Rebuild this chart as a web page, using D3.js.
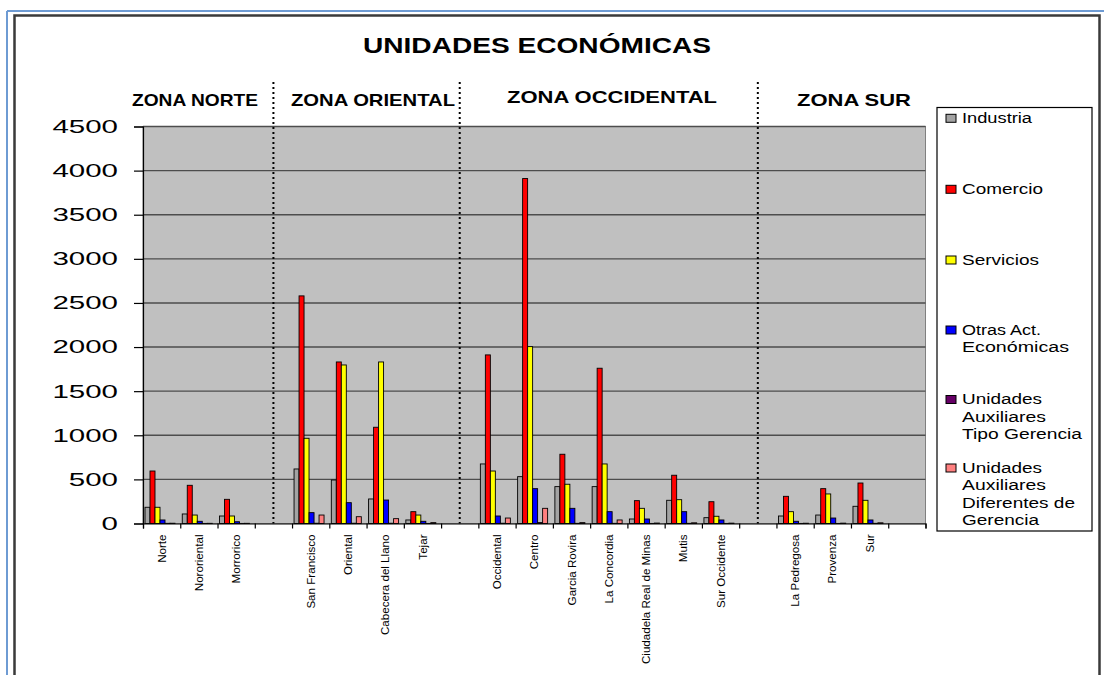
<!DOCTYPE html>
<html>
<head>
<meta charset="utf-8">
<script src="https://cdn.jsdelivr.net/npm/d3@7/dist/d3.min.js"></script>
<style>
  html, body { margin: 0; padding: 0; background: #ffffff; }
  svg { display: block; }
  text { font-family: "Liberation Sans", Arial, sans-serif; fill: #000; }
</style>
</head>
<body>
<svg id="chart" width="1104" height="675"></svg>
<script>
// Neighbourhoods (comunas) grouped by zone; empty strings are the gaps between zones
const categories = ["Norte", "Nororiental", "Morrorico", "",
  "San Francisco", "Oriental", "Cabecera del Llano", "Tejar", "",
  "Occidental", "Centro", "Garcia Rovira", "La Concordia", "Ciudadela Real de Minas", "Mutis", "Sur Occidente", "",
  "La Pedregosa", "Provenza", "Sur", ""];

const seriesNames = ["Industria", "Comercio", "Servicios", "Otras Act. Económicas",
  "Unidades Auxiliares Tipo Gerencia", "Unidades Auxiliares Diferentes de Gerencia"];

const industria    = [184, 108, 85, null, 618, 493, 278, 40, null, 675, 531, 418, 418, 51, 263, 66, null, 85, 96, 195, null];
const comercio     = [595, 433, 274, null, 2580, 1831, 1091, 134, null, 1911, 3910, 785, 1760, 259, 547, 247, null, 308, 395, 459, null];
const servicios    = [184, 96, 85, null, 966, 1797, 1831, 96, null, 595, 2005, 445, 675, 172, 270, 82, null, 134, 335, 263, null];
const otrasAct     = [40, 25, 20, null, 123, 236, 266, 25, null, 85, 395, 172, 134, 51, 134, 40, null, 25, 62, 40, null];
const auxGerencia  = [2, 1, 1, null, 3, 3, 3, 1, null, 3, 10, 2, 2, 1, 2, 1, null, 1, 1, 2, null];
const auxDiferente = [3, 2, 2, null, 96, 77, 55, 10, null, 62, 172, 10, 40, 5, 8, 4, null, 3, 4, 8, null];

const seriesValues = [industria, comercio, servicios, otrasAct, auxGerencia, auxDiferente];
const seriesColors = ["#a3a3a3", "#ff0000", "#ffff00", "#0000ff", "#660066", "#ff8080"];

const yTicks = [0, 500, 1000, 1500, 2000, 2500, 3000, 3500, 4000, 4500];

const zoneNames = ["ZONA NORTE", "ZONA ORIENTAL", "ZONA OCCIDENTAL", "ZONA SUR"];
const separators = [3, 8, 16];

// Legend entries split into the lines they occupy
const legendLines = [
  ["Industria"], ["Comercio"], ["Servicios"], ["Otras Act.", "Económicas"],
  ["Unidades", "Auxiliares", "Tipo Gerencia"],
  ["Unidades", "Auxiliares", "Diferentes de", "Gerencia"]
];

const svg = d3.select("#chart");

// ---- outer frame ----
svg.append("line").attr("x1", 7).attr("x2", 1104).attr("y1", 11).attr("y2", 11)
  .attr("stroke", "#6e9bd3").attr("stroke-width", 2);
svg.append("line").attr("x1", 7).attr("x2", 7).attr("y1", 11).attr("y2", 675)
  .attr("stroke", "#6e9bd3").attr("stroke-width", 2);
svg.append("path").attr("d", "M14.5,675 V15.5 H1099.5 V675")
  .attr("fill", "none").attr("stroke", "#3a3a3a").attr("stroke-width", 2.5);

// ---- plot geometry ----
const plotL = 143, plotR = 925.5, plotT = 126.5, plotB = 523.5;

const x = d3.scaleBand().domain(d3.range(categories.length)).range([plotL, plotR]).padding(0);
const xEdge = d3.scaleLinear().domain([0, categories.length]).range([plotL, plotR]);
const xSub = d3.scaleBand().domain(d3.range(seriesNames.length)).range([2, 32]).padding(0);
const y = d3.scaleLinear().domain([0, 4500]).range([plotB, plotT]);

// plot background
svg.append("rect").attr("x", plotL).attr("y", plotT)
  .attr("width", plotR - plotL).attr("height", plotB - plotT)
  .attr("fill", "#c0c0c0").attr("stroke", "#808080").attr("stroke-width", 1);

// gridlines
svg.append("g").selectAll("line").data(yTicks.filter(v => v > 0)).join("line")
  .attr("x1", plotL).attr("x2", plotR)
  .attr("y1", d => y(d)).attr("y2", d => y(d))
  .attr("stroke", "#4d4d4d").attr("stroke-width", 1.4);

// bars
const barData = [];
categories.forEach((c, i) => {
  seriesValues.forEach((vals, s) => {
    if (vals[i] != null) barData.push({ i, s, v: vals[i] });
  });
});
svg.append("g").selectAll("rect").data(barData).join("rect")
  .attr("x", d => x(d.i) + xSub(d.s))
  .attr("y", d => y(d.v))
  .attr("width", xSub.bandwidth())
  .attr("height", d => plotB - y(d.v))
  .attr("fill", d => seriesColors[d.s])
  .attr("stroke", "#000").attr("stroke-width", 0.9);

// zone separators (dotted)
svg.append("g").selectAll("line").data(separators).join("line")
  .attr("x1", d => x(d) + x.bandwidth() / 2).attr("x2", d => x(d) + x.bandwidth() / 2)
  .attr("y1", 82).attr("y2", plotB)
  .attr("stroke", "#000").attr("stroke-width", 2).attr("stroke-dasharray", "2,3");

// y axis
const yAxis = svg.append("g").attr("transform", `translate(${plotL},0)`)
  .call(d3.axisLeft(y).tickValues(yTicks).tickSize(9).tickPadding(16).tickFormat(d3.format("d")));
yAxis.select(".domain").attr("stroke", "#000").attr("stroke-width", 1.2);
yAxis.selectAll(".tick line").attr("stroke", "#000").attr("stroke-width", 1.2);
yAxis.selectAll(".tick text")
  .attr("font-size", 18.5).attr("font-family", "Liberation Sans, Arial, sans-serif")
  .attr("fill", "#000")
  .attr("textLength", d => String(d).length * 16.4)
  .attr("lengthAdjust", "spacingAndGlyphs");

// x axis: tick marks on the category edges
const xAxisEdges = svg.append("g").attr("transform", `translate(0,${plotB})`)
  .call(d3.axisBottom(xEdge).tickValues(d3.range(categories.length + 1)).tickSize(5).tickFormat(""));
xAxisEdges.select(".domain").attr("stroke", "#000").attr("stroke-width", 1.2);
xAxisEdges.selectAll(".tick line").attr("stroke", "#000").attr("stroke-width", 1.2);

// x axis: rotated category names
const xAxisLabels = svg.append("g").attr("transform", `translate(0,${plotB})`)
  .call(d3.axisBottom(x).tickSize(0).tickFormat(i => categories[i]));
xAxisLabels.select(".domain").remove();
xAxisLabels.selectAll(".tick text")
  .attr("font-size", 11.6).attr("font-family", "Liberation Sans, Arial, sans-serif").attr("fill", "#000")
  .attr("transform", "rotate(-90)")
  .attr("text-anchor", "end")
  .attr("x", -11).attr("y", 0).attr("dy", "0.35em");

// title
svg.append("text").attr("x", 537).attr("y", 53)
  .attr("text-anchor", "middle").attr("font-size", 22).attr("font-weight", "bold")
  .attr("textLength", 348).attr("lengthAdjust", "spacingAndGlyphs")
  .text("UNIDADES ECONÓMICAS");

// zone headers (centre, baseline, width)
const zoneLayout = [[195, 106, 126], [373, 106, 164], [612, 103, 210], [854, 106, 114]];
svg.append("g").selectAll("text").data(zoneNames).join("text")
  .attr("x", (d, k) => zoneLayout[k][0])
  .attr("y", (d, k) => zoneLayout[k][1])
  .attr("text-anchor", "middle")
  .attr("font-size", 17).attr("font-weight", "bold")
  .attr("font-family", "Liberation Sans Narrow, Arial Narrow, Liberation Sans, sans-serif")
  .attr("textLength", (d, k) => zoneLayout[k][2]).attr("lengthAdjust", "spacingAndGlyphs")
  .text(d => d);

// legend
const legend = svg.append("g");
legend.append("rect").attr("x", 937).attr("y", 107.5).attr("width", 155).attr("height", 423.5)
  .attr("fill", "#fff").attr("stroke", "#000").attr("stroke-width", 1.2);

const legendTop = [118.3, 189.3, 260, 330, 399.5, 468];
const lineGap = 17.5;
const lineWidths = {
  "Industria": 70, "Comercio": 81, "Servicios": 77, "Otras Act.": 79, "Económicas": 107,
  "Unidades": 80, "Auxiliares": 84, "Tipo Gerencia": 120, "Diferentes de": 113, "Gerencia": 77
};
legendLines.forEach((lines, s) => {
  const cy = legendTop[s];
  legend.append("rect").attr("x", 946).attr("y", cy - 4).attr("width", 10).attr("height", 8)
    .attr("fill", seriesColors[s]).attr("stroke", "#000").attr("stroke-width", 1);
  lines.forEach((t, k) => {
    legend.append("text").attr("x", 962).attr("y", cy + k * lineGap).attr("dy", "0.35em")
      .attr("font-size", 14)
      .attr("textLength", lineWidths[t]).attr("lengthAdjust", "spacingAndGlyphs")
      .text(t);
  });
});
</script>
</body>
</html>
